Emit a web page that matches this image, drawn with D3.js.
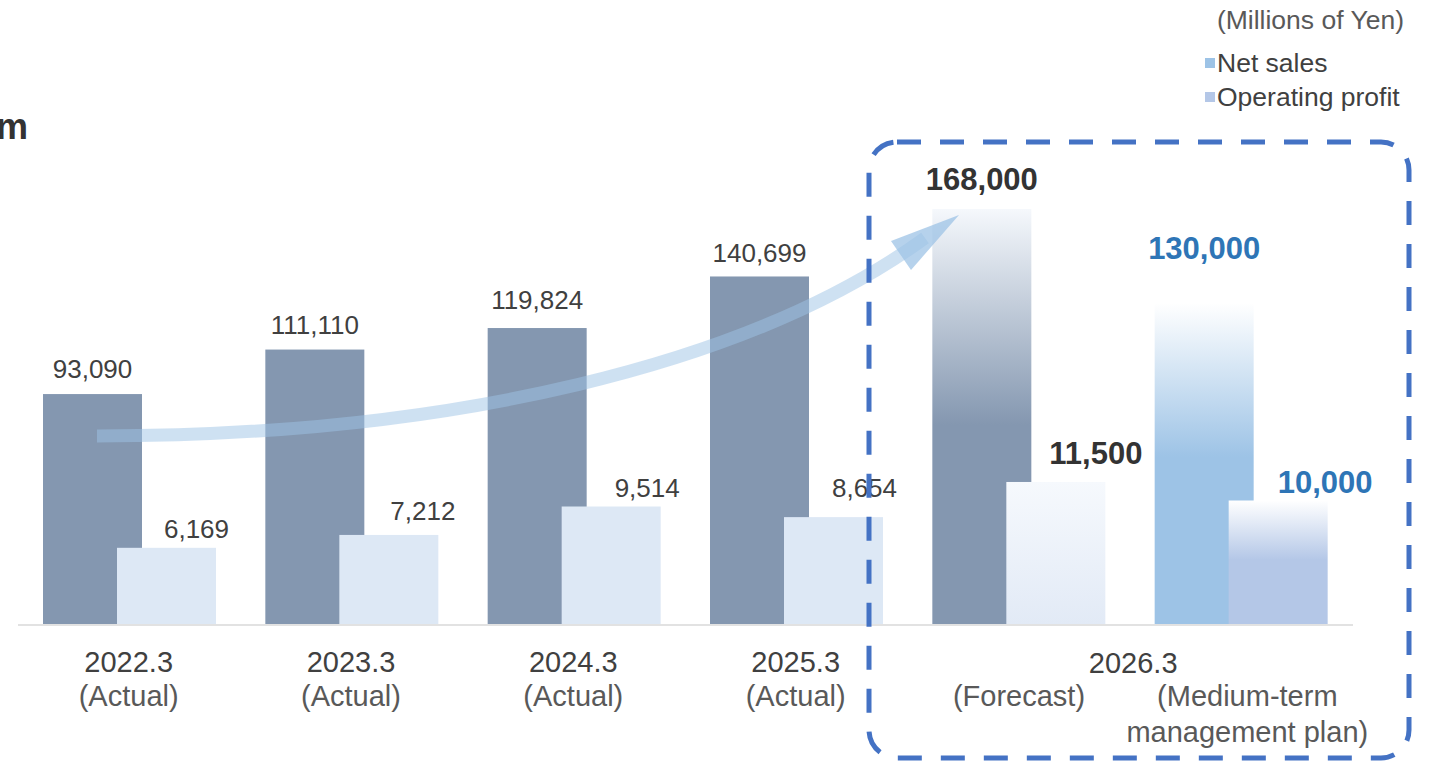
<!DOCTYPE html>
<html>
<head>
<meta charset="utf-8">
<script src="https://cdn.jsdelivr.net/npm/d3@7/dist/d3.min.js"></script>
<style>
  html, body { margin: 0; padding: 0; background: #ffffff; }
  svg { display: block; font-family: "Liberation Sans", Arial, Helvetica, sans-serif; }
</style>
</head>
<body>
<svg id="chart" width="1430" height="761"></svg>
<script>
// ---- data (millions of yen) ----
const groups = ["2022.3", "2023.3", "2024.3", "2025.3", "2026.3 Forecast", "2026.3 Plan"];
const netSales = [93090, 111110, 119824, 140699, 168000, 130000];
const operatingProfit = [6169, 7212, 9514, 8654, 11500, 10000];
const yearLabels = ["2022.3", "2023.3", "2024.3", "2025.3"];
const actualLabel = "(Actual)";
const finalYearLabel = "2026.3";
const forecastLabel = "(Forecast)";
const planLabelLines = ["(Medium-term", "management plan)"];
const unitLabel = "(Millions of Yen)";
const legendLabels = ["Net sales", "Operating profit"];
const headingTail = "m";

// ---- layout ----
const W = 1430, H = 761;
const baseY = 624, topY = 130;
const barW = 99, nsOffset = 24.5, opOffset = 98.5;
const fmt = d3.format(",");

const svg = d3.select("#chart");
const defs = svg.append("defs");

const x = d3.scaleBand().domain(groups).range([18.5, 1352.5]).padding(0);
const yNS = d3.scaleLinear().domain([0, 200000]).range([baseY, topY]);
const yOP = d3.scaleLinear().domain([0, 40000]).range([baseY, topY]);

// vertical fade gradients for the 2026.3 bars
function fade(id, stops) {
  const g = defs.append("linearGradient").attr("id", id)
    .attr("x1", 0).attr("y1", 0).attr("x2", 0).attr("y2", 1);
  stops.forEach(([o, c]) => g.append("stop").attr("offset", o).attr("stop-color", c));
}
fade("nsForecast", [[0, "#f5f8fc"], [0.52, "#8497b0"], [1, "#8497b0"]]);
fade("opForecast", [[0, "#f6f9fd"], [1, "#e2eaf6"]]);
fade("nsPlan", [[0, "#ffffff"], [0.48, "#9dc3e6"], [1, "#9dc3e6"]]);
fade("opPlan", [[0, "#ffffff"], [0.48, "#b4c7e7"], [1, "#b4c7e7"]]);

const nsFill = i => i < 4 ? "#8497b0" : (i === 4 ? "url(#nsForecast)" : "url(#nsPlan)");
const opFill = i => i < 4 ? "#dde8f5" : (i === 4 ? "url(#opForecast)" : "url(#opPlan)");

// net sales bars
svg.append("g").selectAll("rect").data(netSales).join("rect")
  .attr("x", (d, i) => x(groups[i]) + nsOffset)
  .attr("y", d => yNS(d))
  .attr("width", barW)
  .attr("height", d => baseY - yNS(d))
  .attr("fill", (d, i) => nsFill(i));

// operating profit bars
svg.append("g").selectAll("rect").data(operatingProfit).join("rect")
  .attr("x", (d, i) => x(groups[i]) + opOffset)
  .attr("y", d => yOP(d))
  .attr("width", barW)
  .attr("height", d => baseY - yOP(d))
  .attr("fill", (d, i) => opFill(i));

// baseline
svg.append("line")
  .attr("x1", 18).attr("x2", 1353)
  .attr("y1", baseY + 1).attr("y2", baseY + 1)
  .attr("stroke", "#d9d9d9").attr("stroke-width", 1.6);

// value labels
const nsGap = [16, 16, 19, 14, 19, 44];
const opGap = [10, 15, 10, 20, 18, 8];
const opShift = [30, 34, 36, 31, 40, 47];
const labelColor = i => i < 4 ? "#404040" : (i === 4 ? "#333333" : "#2e75b6");
const labelWeight = i => i < 4 ? "normal" : "bold";
const labelSize = i => i < 4 ? "26px" : "31px";

svg.append("g").selectAll("text").data(netSales).join("text")
  .attr("x", (d, i) => x(groups[i]) + nsOffset + barW / 2)
  .attr("y", (d, i) => yNS(d) - nsGap[i])
  .attr("text-anchor", "middle")
  .attr("fill", (d, i) => labelColor(i))
  .attr("font-weight", (d, i) => labelWeight(i))
  .attr("font-size", (d, i) => labelSize(i))
  .text(d => fmt(d));

svg.append("g").selectAll("text").data(operatingProfit).join("text")
  .attr("x", (d, i) => x(groups[i]) + opOffset + barW / 2 + opShift[i])
  .attr("y", (d, i) => yOP(d) - opGap[i])
  .attr("text-anchor", "middle")
  .attr("fill", (d, i) => labelColor(i))
  .attr("font-weight", (d, i) => labelWeight(i))
  .attr("font-size", (d, i) => labelSize(i))
  .text(d => fmt(d));

// category labels
const axisG = svg.append("g").attr("text-anchor", "middle").attr("font-size", "29px");
yearLabels.forEach((lab, i) => {
  const cx = x(groups[i]) + x.bandwidth() / 2 - 1;
  axisG.append("text").attr("x", cx).attr("y", 672).attr("fill", "#404040").text(lab);
  axisG.append("text").attr("x", cx).attr("y", 706).attr("fill", "#595959").text(actualLabel);
});
axisG.append("text").attr("x", x(groups[5]) + 3).attr("y", 673)
  .attr("fill", "#404040").text(finalYearLabel);
axisG.append("text").attr("x", x(groups[4]) + x.bandwidth() / 2).attr("y", 706)
  .attr("fill", "#595959").text(forecastLabel);
planLabelLines.forEach((t, k) => {
  axisG.append("text").attr("x", x(groups[5]) + x.bandwidth() / 2 + 6).attr("y", 706 + k * 36)
    .attr("fill", "#595959").text(t);
});

// growth arrow across the net sales bars
const arrowStart = [x(groups[0]) + nsOffset + 54, 436];
const arrowEnd = [925, 238];
svg.append("path")
  .attr("d", `M${arrowStart[0]},${arrowStart[1]} C450,436 750,365 ${arrowEnd[0]},${arrowEnd[1]}`)
  .attr("fill", "none")
  .attr("stroke", "#9dc3e6")
  .attr("stroke-opacity", 0.5)
  .attr("stroke-width", 13);
svg.append("path")
  .attr("d", "M959,215 L891,241 L911,270 Z")
  .attr("fill", "#9dc3e6")
  .attr("fill-opacity", 0.75);

// unit note and legend
svg.append("text").attr("x", 1404).attr("y", 29).attr("text-anchor", "end")
  .attr("font-size", "26.5px").attr("fill", "#595959").text(unitLabel);
const legendColors = ["#9dc3e6", "#b4c7e7"];
legendLabels.forEach((lab, k) => {
  const ly = 58 + k * 34;
  svg.append("rect").attr("x", 1205).attr("y", ly).attr("width", 10).attr("height", 10)
    .attr("fill", legendColors[k]);
  svg.append("text").attr("x", 1217).attr("y", ly + 14)
    .attr("font-size", "26.5px").attr("fill", "#404040").text(lab);
});

// heading fragment at the left edge
svg.append("text").attr("x", 28).attr("y", 139).attr("text-anchor", "end")
  .attr("font-size", "36px").attr("font-weight", "bold").attr("fill", "#333333")
  .text(headingTail);

// dashed frame around the 2026.3 figures
svg.append("rect")
  .attr("x", 869).attr("y", 142)
  .attr("width", 540).attr("height", 616)
  .attr("rx", 28).attr("ry", 28)
  .attr("fill", "none")
  .attr("stroke", "#4472c4")
  .attr("stroke-width", 5)
  .attr("stroke-dasharray", "24 19");
</script>
</body>
</html>
